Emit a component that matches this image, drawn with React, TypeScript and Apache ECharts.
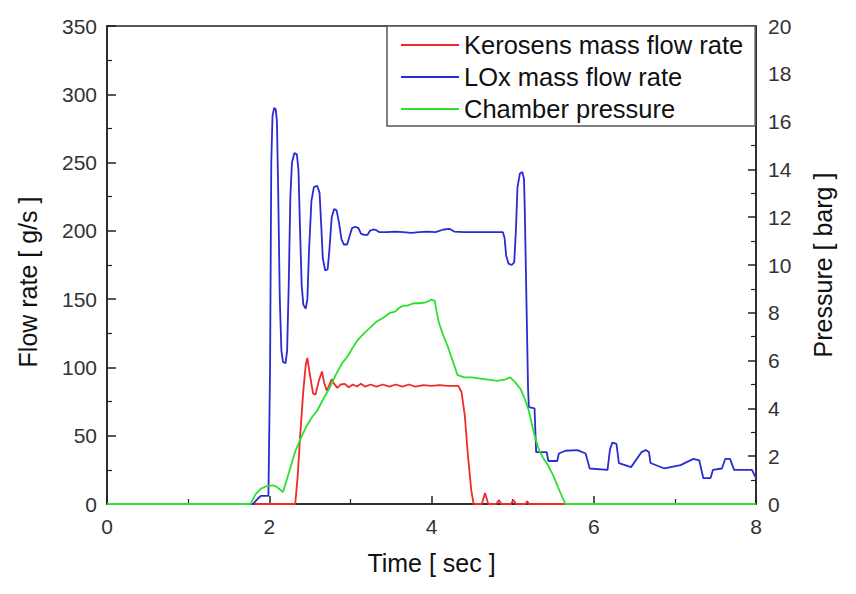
import React, { useEffect, useRef } from "react";
import * as echarts from "echarts";

const FONT = '"Liberation Sans", Arial, sans-serif';

const seriesNames = ["Kerosens mass flow rate", "LOx mass flow rate", "Chamber pressure"];
const seriesColors = ["#ee2b2b", "#2b2bd4", "#2ee02e"];

const xTicks = [0, 2, 4, 6, 8];
const leftTicks = [0, 50, 100, 150, 200, 250, 300, 350];
const rightTicks = [0, 2, 4, 6, 8, 10, 12, 14, 16, 18, 20];

// Kerosene mass flow rate [g/s]
const keroTime = [0, 2.32, 2.35, 2.38, 2.42, 2.45, 2.47, 2.5, 2.54, 2.57, 2.61, 2.65, 2.68, 2.71, 2.74, 2.77, 2.8, 2.84, 2.88, 2.93, 2.98, 3.03, 3.08, 3.13, 3.18, 3.25, 3.32, 3.4, 3.48, 3.56, 3.64, 3.72, 3.8, 3.9, 4.0, 4.1, 4.2, 4.33, 4.37, 4.41, 4.45, 4.49, 4.52, 4.62, 4.66, 4.7, 4.8, 4.83, 4.86, 4.98, 5.01, 5.04, 5.16, 5.18, 5.2, 8];
const keroFlow = [0, 0, 20, 49, 83, 102, 107, 95, 81, 80, 90, 97, 88, 83, 87, 91.5, 88, 85, 87.5, 88, 85.5, 87.5, 86, 88, 86, 87.5, 86, 87.5, 86, 87.5, 86, 87.5, 86, 87, 86.5, 87, 86.5, 86.5, 82, 65, 35, 10, 0, 0, 8, 0, 0, 3, 0, 0, 3, 0, 0, 2, 0, 0];

// LOx mass flow rate [g/s]
const loxTime = [0, 1.8, 1.86, 1.9, 1.99, 2.01, 2.025, 2.04, 2.06, 2.08, 2.095, 2.11, 2.13, 2.15, 2.17, 2.2, 2.22, 2.24, 2.26, 2.28, 2.31, 2.34, 2.36, 2.38, 2.4, 2.42, 2.45, 2.47, 2.49, 2.52, 2.55, 2.59, 2.62, 2.64, 2.66, 2.69, 2.72, 2.74, 2.77, 2.8, 2.83, 2.86, 2.89, 2.92, 2.96, 2.99, 3.02, 3.06, 3.1, 3.13, 3.17, 3.21, 3.24, 3.28, 3.32, 3.36, 3.45, 3.55, 3.65, 3.75, 3.85, 3.95, 4.05, 4.15, 4.22, 4.28, 4.4, 4.6, 4.75, 4.88, 4.9, 4.92, 4.95, 4.99, 5.02, 5.04, 5.06, 5.09, 5.12, 5.14, 5.15, 5.17, 5.19, 5.2, 5.27, 5.29, 5.42, 5.44, 5.55, 5.57, 5.65, 5.8, 5.9, 5.95, 6.17, 6.2, 6.23, 6.28, 6.31, 6.46, 6.59, 6.64, 6.68, 6.7, 6.87, 7.07, 7.23, 7.3, 7.35, 7.44, 7.47, 7.58, 7.62, 7.68, 7.73, 7.95, 8.0];
const loxFlow = [0, 0, 4, 6, 6, 100, 250, 284, 290, 289, 280, 230, 150, 112, 104, 103, 112, 160, 225, 250, 257, 256, 245, 200, 160, 146, 143, 150, 185, 222, 232, 233, 228, 205, 180, 171, 172, 185, 210, 216, 215, 206, 194, 190, 190, 196, 202, 203, 202, 198, 197, 197, 200, 201, 200.5, 199, 199, 199.5, 199, 198.5, 199, 199.5, 199, 201, 201.5, 199.5, 199, 199, 199, 199, 195, 182, 176, 175, 177, 200, 232, 242, 243, 238, 215, 150, 85, 71, 70, 38, 38, 31.5, 31.5, 37, 39, 39.5, 37, 26, 25, 40, 45, 44, 30, 27, 38, 39.5, 38, 30, 26, 28.5, 33, 32, 19, 19, 25, 26, 33, 33, 25, 25, 19];

// Chamber pressure [barg]
const presTime = [0, 1.77, 1.83, 1.9, 1.97, 2.05, 2.1, 2.17, 2.25, 2.32, 2.38, 2.45, 2.52, 2.59, 2.66, 2.75, 2.82, 2.9, 2.97, 3.03, 3.09, 3.17, 3.25, 3.33, 3.41, 3.49, 3.55, 3.6, 3.65, 3.7, 3.78, 3.86, 3.94, 4.0, 4.04, 4.06, 4.09, 4.14, 4.2, 4.26, 4.32, 4.4, 4.5, 4.6, 4.7, 4.81, 4.9, 4.97, 5.03, 5.1, 5.15, 5.2, 5.26, 5.32, 5.38, 5.44, 5.5, 5.56, 5.65, 8];
const presValue = [0, 0, 0.4, 0.65, 0.75, 0.78, 0.7, 0.5, 1.4, 2.2, 2.68, 3.2, 3.6, 3.9, 4.35, 4.9, 5.4, 5.9, 6.2, 6.55, 6.86, 7.15, 7.4, 7.65, 7.8, 8.0, 8.05, 8.2, 8.3, 8.3, 8.4, 8.4, 8.45, 8.55, 8.5, 8.1, 7.6, 7.1, 6.6, 6.0, 5.4, 5.3, 5.3, 5.25, 5.2, 5.15, 5.2, 5.3, 5.1, 4.8, 4.4, 3.9, 3.0, 2.3, 1.9, 1.6, 1.2, 0.7, 0, 0];

const zip = (t: number[], v: number[]) => t.map((x, i) => [x, v[i]]);

const axisColor = "#222";
const labelStyle = { fontSize: 21, color: "#333", fontFamily: FONT };
const nameStyle = { fontSize: 25, color: "#111", fontFamily: FONT };

export default function App() {
  const ref = useRef<HTMLDivElement>(null);
  useEffect(() => {
    if (!ref.current) return;
    const chart = echarts.init(ref.current, null, { renderer: "svg" });
    chart.setOption({
      animation: false,
      backgroundColor: "#fff",
      grid: {
        left: 107,
        right: 100,
        top: 26,
        bottom: 90,
        show: true,
        borderColor: axisColor,
        borderWidth: 1.5,
        backgroundColor: "transparent",
      },
      legend: {
        left: 387,
        top: 26,
        orient: "vertical",
        padding: [6, 12, 4, 13],
        itemGap: 6,
        itemWidth: 58,
        itemHeight: 25,
        borderColor: "#555",
        borderWidth: 1.5,
        backgroundColor: "#fff",
        itemStyle: { opacity: 0 },
        textStyle: { fontSize: 25.5, color: "#111", fontFamily: FONT },
        data: seriesNames,
      },
      xAxis: {
        type: "value",
        min: xTicks[0],
        max: xTicks[xTicks.length - 1],
        interval: 2,
        name: "Time [ sec ]",
        nameLocation: "middle",
        nameGap: 46,
        nameTextStyle: nameStyle,
        axisLine: { show: true, onZero: false, lineStyle: { color: axisColor, width: 1.5 } },
        axisTick: { show: true, inside: true, length: 8, lineStyle: { color: axisColor, width: 1.5 } },
        minorTick: { show: true, splitNumber: 2, length: 5, lineStyle: { color: axisColor, width: 1.2 } },
        splitLine: { show: false },
        axisLabel: { ...labelStyle, margin: 12 },
      },
      yAxis: [
        {
          type: "value",
          position: "left",
          min: leftTicks[0],
          max: leftTicks[leftTicks.length - 1],
          interval: 50,
          name: "Flow rate [ g/s ]",
          nameLocation: "middle",
          nameRotate: 90,
          nameGap: 67,
          nameTextStyle: { ...nameStyle, padding: [0, 34, 0, 0] },
          axisLine: { show: true, lineStyle: { color: axisColor, width: 1.5 } },
          axisTick: { show: true, inside: true, length: 9, lineStyle: { color: axisColor, width: 1.5 } },
          minorTick: { show: true, splitNumber: 2, length: 5, lineStyle: { color: axisColor, width: 1.2 } },
          splitLine: { show: false },
          axisLabel: { ...labelStyle, margin: 10 },
        },
        {
          type: "value",
          position: "right",
          min: rightTicks[0],
          max: rightTicks[rightTicks.length - 1],
          interval: 2,
          name: "Pressure [ barg ]",
          nameLocation: "middle",
          nameRotate: 90,
          nameGap: 54,
          nameTextStyle: nameStyle,
          axisLine: { show: true, lineStyle: { color: axisColor, width: 1.5 } },
          axisTick: { show: true, inside: true, length: 8, lineStyle: { color: axisColor, width: 1.5 } },
          minorTick: { show: true, splitNumber: 2, length: 5, lineStyle: { color: axisColor, width: 1.2 } },
          splitLine: { show: false },
          axisLabel: { ...labelStyle, margin: 12 },
        },
      ],
      series: [
        {
          name: seriesNames[0],
          type: "line",
          yAxisIndex: 0,
          symbol: "none",
          data: zip(keroTime, keroFlow),
          lineStyle: { color: seriesColors[0], width: 1.8 },
          itemStyle: { color: seriesColors[0] },
        },
        {
          name: seriesNames[1],
          type: "line",
          yAxisIndex: 0,
          symbol: "none",
          data: zip(loxTime, loxFlow),
          lineStyle: { color: seriesColors[1], width: 1.8 },
          itemStyle: { color: seriesColors[1] },
        },
        {
          name: seriesNames[2],
          type: "line",
          yAxisIndex: 1,
          symbol: "none",
          data: zip(presTime, presValue),
          lineStyle: { color: seriesColors[2], width: 1.8 },
          itemStyle: { color: seriesColors[2] },
        },
      ],
    });
    return () => chart.dispose();
  }, []);
  return (
    <div
      ref={ref}
      style={{ position: "fixed", left: 0, top: 0, width: 856, height: 594, background: "#fff" }}
    />
  );
}
